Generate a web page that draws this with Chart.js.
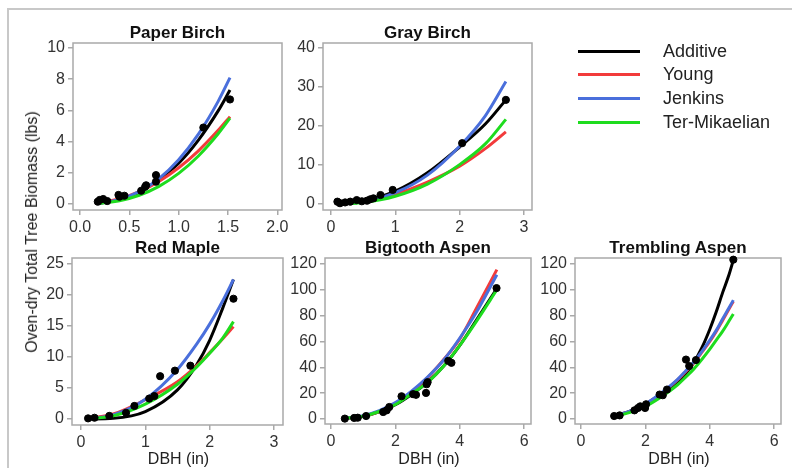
<!DOCTYPE html>
<html>
<head>
<meta charset="utf-8">
<script src="https://cdn.jsdelivr.net/npm/chart.js@4.4.1/dist/chart.umd.min.js"></script>
<style>
  body { margin:0; width:792px; height:468px; background:#fff; position:relative; overflow:hidden;
         font-family:"Liberation Sans", Arial, sans-serif; }
  .frame { position:absolute; left:7px; top:8px; right:-4px; bottom:-4px;
           border-left:2px solid #c8c8c8; border-top:2px solid #c8c8c8; }
  canvas { position:absolute; }
  .ttl { position:absolute; font-weight:bold; font-size:17px; color:#111;
         transform:translate(-50%,-50%); white-space:nowrap; }
  .axt { position:absolute; font-size:16px; color:#222; transform:translate(-50%,-50%); white-space:nowrap; }
  .ytl { position:absolute; font-size:16px; color:#222; white-space:nowrap;
         transform:translate(-50%,-50%) rotate(-90deg); }
  .leg-line { position:absolute; left:578px; width:62px; height:3px; }
  .leg-txt { position:absolute; left:663px; font-size:18px; color:#222; transform:translateY(-50%); white-space:nowrap; }
</style>
</head>
<body>
<div class="frame"></div>
<script>
// legend / model names
const models = ['Additive', 'Young', 'Jenkins', 'Ter-Mikaelian'];
const modelColors = ['#000000', '#f23b3b', '#4a6fdc', '#1edc1e'];

// Paper Birch
const dbhPB = [0.17, 0.4, 0.6, 0.8, 1.0, 1.2, 1.4, 1.52];
const additivePB = [0.03, 0.28, 0.75, 1.58, 2.62, 4.1, 5.97, 7.3];
const youngPB = [0.06, 0.34, 0.8, 1.45, 2.32, 3.41, 4.72, 5.6];
const jenkinsPB = [0.03, 0.29, 0.79, 1.63, 2.84, 4.48, 6.58, 8.1];
const terPB = [0.03, 0.21, 0.56, 1.13, 1.96, 3.08, 4.5, 5.5];
const obsXPB = [0.18, 0.2, 0.235, 0.276, 0.39, 0.4, 0.45, 0.62, 0.66, 0.67, 0.77, 0.77, 1.25, 1.52];
const obsYPB = [0.15, 0.26, 0.32, 0.19, 0.58, 0.47, 0.53, 0.85, 1.1, 1.2, 1.85, 1.43, 4.9, 6.7];
const xTicksPB = ['0.0', '0.5', '1.0', '1.5', '2.0'];
const yTicksPB = ['0', '2', '4', '6', '8', '10'];

// Gray Birch
const dbhGB = [0.1, 0.5, 1.0, 1.5, 2.0, 2.4, 2.72];
const additiveGB = [0.08, 0.8, 3.3, 8.0, 14.6, 20.5, 26.7];
const youngGB = [0.05, 0.6, 2.5, 5.6, 9.7, 14.2, 18.5];
const jenkinsGB = [0.06, 0.57, 2.9, 7.4, 14.8, 22.6, 31.4];
const terGB = [0.03, 0.4, 2.0, 5.1, 10.1, 15.4, 21.7];
const obsXGB = [0.1, 0.14, 0.22, 0.3, 0.4, 0.48, 0.56, 0.61, 0.66, 0.77, 0.96, 2.04, 2.72];
const obsYGB = [0.6, 0.2, 0.4, 0.6, 1.0, 0.7, 0.85, 1.2, 1.45, 2.3, 3.6, 15.6, 26.7];
const xTicksGB = ['0', '1', '2', '3'];
const yTicksGB = ['0', '10', '20', '30', '40'];

// Red Maple
const dbhRM = [0.1, 0.5, 1.0, 1.5, 1.8, 2.0, 2.2, 2.37];
const additiveRM = [0.0, 0.11, 1.2, 4.7, 8.8, 12.7, 17.8, 22.5];
const youngRM = [0.1, 0.8, 3.1, 6.0, 8.6, 10.7, 12.9, 14.9];
const jenkinsRM = [0.02, 0.67, 3.2, 8.0, 12.1, 15.3, 19.0, 22.5];
const terRM = [0.02, 0.5, 2.4, 5.6, 8.4, 10.6, 13.0, 15.7];
const obsXRM = [0.11, 0.21, 0.44, 0.7, 0.83, 1.06, 1.14, 1.23, 1.46, 1.7, 2.37];
const obsYRM = [0.1, 0.2, 0.5, 1.0, 2.1, 3.3, 3.7, 6.9, 7.8, 8.6, 19.4];
const xTicksRM = ['0', '1', '2', '3'];
const yTicksRM = ['0', '5', '10', '15', '20', '25'];

// Bigtooth Aspen
const dbhBA = [0.43, 1.0, 1.5, 2.0, 2.5, 3.0, 3.5, 4.0, 4.5, 5.15];
const additiveBA = [0.4, 2.1, 5.6, 11.0, 19.0, 28.5, 41.0, 57.0, 76.0, 101.0];
const youngBA = [0.4, 2.2, 5.8, 11.8, 20.6, 32.0, 46.0, 62.0, 85.0, 115.6];
const jenkinsBA = [0.5, 2.6, 6.5, 12.7, 21.6, 32.5, 45.7, 62.7, 82.0, 111.7];
const terBA = [0.4, 2.2, 5.8, 11.2, 19.5, 28.3, 41.0, 57.0, 75.0, 100.0];
const obsXBA = [0.43, 0.72, 0.83, 1.09, 1.62, 1.73, 1.81, 2.19, 2.55, 2.64, 2.95, 2.97, 3.0, 3.64, 3.74, 5.14];
const obsYBA = [0.3, 0.8, 1.0, 2.3, 5.4, 6.7, 9.3, 17.6, 19.2, 18.7, 20.2, 26.9, 28.5, 45, 43.5, 101.3];
const xTicksBA = ['0', '2', '4', '6'];
const yTicksBA = ['0', '20', '40', '60', '80', '100', '120'];

// Trembling Aspen
const dbhTA = [1.0, 1.5, 2.0, 2.5, 3.0, 3.25, 3.5, 3.75, 4.0, 4.2, 4.4, 4.6, 4.73];
const additiveTA = [2.2, 5.9, 11.6, 19.5, 28.5, 35.0, 43.5, 55.0, 69.5, 83.0, 98.0, 112.0, 123.0];
const youngTA = [2.1, 5.6, 11.2, 19.8, 30.2, 36.5, 43.4, 51.5, 60.0, 67.8, 76.5, 85.3, 91.0];
const jenkinsTA = [2.2, 5.9, 11.6, 20.3, 30.7, 37.2, 44.1, 52.2, 61.0, 68.6, 77.5, 86.2, 92.0];
const terTA = [1.8, 4.9, 9.8, 17.3, 26.5, 32.4, 38.6, 46.0, 54.0, 61.0, 68.0, 76.0, 81.3];
const obsXTA = [1.03, 1.2, 1.66, 1.77, 1.84, 1.99, 2.02, 2.44, 2.54, 2.67, 3.26, 3.36, 3.57, 4.73];
const obsYTA = [2.3, 2.8, 6.7, 8.5, 9.8, 8.5, 11.4, 18.9, 18.4, 22.8, 46, 41, 45.6, 123.3];
const xTicksTA = ['0', '2', '4', '6'];
const yTicksTA = ['0', '20', '40', '60', '80', '100', '120'];

Chart.defaults.font.family = '"Liberation Sans", Arial, sans-serif';

// plot box = [left, top, right, bottom] in page pixels
const panels = [
  { title: 'Paper Birch', box: [73, 43, 282, 210], xr: [-0.071, 2.047], yr: [-0.385, 10.32],
    dbh: dbhPB, curves: [additivePB, youngPB, jenkinsPB, terPB], ox: obsXPB, oy: obsYPB, xt: xTicksPB, yt: yTicksPB },
  { title: 'Gray Birch', box: [323, 43, 532, 210], xr: [-0.124, 3.126], yr: [-1.54, 41.28],
    dbh: dbhGB, curves: [additiveGB, youngGB, jenkinsGB, terGB], ox: obsXGB, oy: obsYGB, xt: xTicksGB, yt: yTicksGB },
  { title: 'Red Maple', box: [72, 258, 283, 425], xr: [-0.14, 3.14], yr: [-0.97, 25.97],
    dbh: dbhRM, curves: [additiveRM, youngRM, jenkinsRM, terRM], ox: obsXRM, oy: obsYRM, xt: xTicksRM, yt: yTicksRM, xlab: true },
  { title: 'Bigtooth Aspen', box: [325, 258, 531, 424], xr: [-0.186, 6.21], yr: [-3.87, 124.6],
    dbh: dbhBA, curves: [additiveBA, youngBA, jenkinsBA, terBA], ox: obsXBA, oy: obsYBA, xt: xTicksBA, yt: yTicksBA, xlab: true },
  { title: 'Trembling Aspen', box: [575, 258, 781, 424], xr: [-0.186, 6.21], yr: [-3.87, 124.6],
    dbh: dbhTA, curves: [additiveTA, youngTA, jenkinsTA, terTA], ox: obsXTA, oy: obsYTA, xt: xTicksTA, yt: yTicksTA, xlab: true }
];

const PAD_L = 62, PAD_T = 14, PAD_R = 14, PAD_B = 32;

// strokes the whole plot rectangle (SAS style frame)
const framePlugin = {
  id: 'frame',
  beforeDatasetsDraw(chart) {
    const a = chart.chartArea, ctx = chart.ctx;
    ctx.save();
    ctx.strokeStyle = '#a9a9a9';
    ctx.lineWidth = 1.5;
    ctx.strokeRect(a.left, a.top, a.right - a.left, a.bottom - a.top);
    ctx.restore();
  }
};

function addText(cls, txt, x, y) {
  const d = document.createElement('div');
  d.className = cls;
  d.textContent = txt;
  d.style.left = x + 'px';
  d.style.top = y + 'px';
  document.body.appendChild(d);
}

function axisOpts(range, labels, isX) {
  return {
    type: 'linear',
    min: range[0],
    max: range[1],
    afterBuildTicks: s => { s.ticks = labels.map(l => ({ value: parseFloat(l) })); },
    afterFit: s => { if (isX) s.height = PAD_B; else s.width = PAD_L; },
    grid: { display: true, drawOnChartArea: false, drawTicks: true, tickLength: 5, color: '#a9a9a9', lineWidth: 1.5 },
    border: { display: false },
    ticks: {
      autoSkip: false, maxRotation: 0, padding: 3, color: '#333',
      font: { size: 16 },
      callback: (v, i) => labels[i]
    }
  };
}

panels.forEach(p => {
  const [l, t, r, b] = p.box;
  const cv = document.createElement('canvas');
  const w = r - l + PAD_L + PAD_R, h = b - t + PAD_T + PAD_B;
  cv.width = w; cv.height = h;
  cv.style.left = (l - PAD_L) + 'px';
  cv.style.top = (t - PAD_T) + 'px';
  cv.style.width = w + 'px'; cv.style.height = h + 'px';
  document.body.appendChild(cv);

  const datasets = [{
    type: 'scatter',
    label: 'Observed',
    data: p.ox.map((x, i) => ({ x: x, y: p.oy[i] })),
    backgroundColor: '#000', borderColor: '#000',
    pointRadius: 3.6, showLine: false, clip: false
  }];
  // draw order: Ter-Mikaelian on top, Additive at the bottom
  [3, 2, 1, 0].forEach(k => {
    datasets.push({
      type: 'line',
      label: models[k],
      data: p.dbh.map((x, i) => ({ x: x, y: p.curves[k][i] })),
      borderColor: modelColors[k],
      borderWidth: 3,
      pointRadius: 0,
      fill: false,
      cubicInterpolationMode: 'monotone',
      clip: 4
    });
  });

  new Chart(cv, {
    data: { datasets: datasets },
    options: {
      responsive: false,
      animation: false,
      layout: { padding: { left: 0, top: PAD_T, right: PAD_R, bottom: 0 } },
      plugins: { legend: { display: false }, tooltip: { enabled: false } },
      scales: { x: axisOpts(p.xr, p.xt, true), y: axisOpts(p.yr, p.yt, false) }
    },
    plugins: [framePlugin]
  });

  addText('ttl', p.title, (l + r) / 2, t - 10);
  if (p.xlab) addText('axt', 'DBH (in)', (l + r) / 2 + 1, 459);
});

addText('ytl', 'Oven-dry Total Tree Biomass (lbs)', 32, 232);

// legend
const legY = [51, 74, 98, 122];
models.forEach((m, i) => {
  const ln = document.createElement('div');
  ln.className = 'leg-line';
  ln.style.top = (legY[i] - 1.5) + 'px';
  ln.style.background = modelColors[i];
  document.body.appendChild(ln);
  const tx = document.createElement('div');
  tx.className = 'leg-txt';
  tx.textContent = m;
  tx.style.top = legY[i] + 'px';
  document.body.appendChild(tx);
});
</script>
</body>
</html>
